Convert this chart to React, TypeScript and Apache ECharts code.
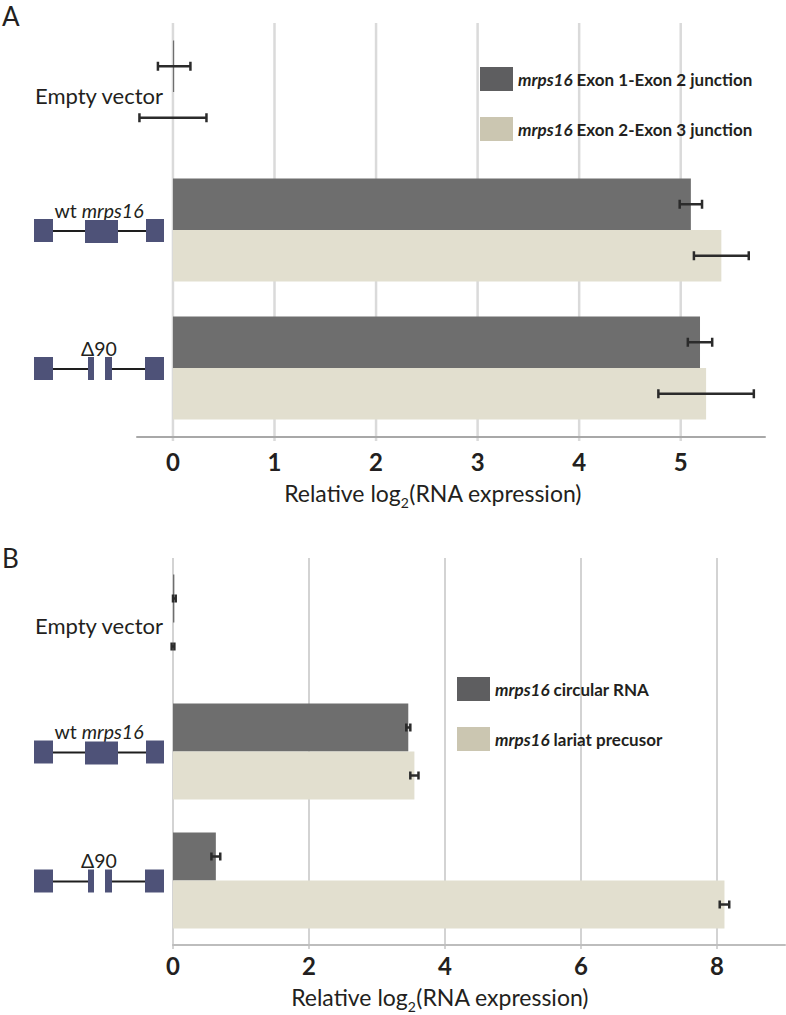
import React, { useEffect, useRef } from 'react';
import * as echarts from 'echarts';

// ---------- data ----------
const categories = ['Empty vector', 'wt mrps16', 'Δ90'];

const seriesA1Name = 'mrps16 Exon 1-Exon 2 junction';
const seriesA2Name = 'mrps16 Exon 2-Exon 3 junction';
const valuesA1 = [0.012, 5.1, 5.19];
const errorsA1 = [0.16, 0.11, 0.12];
const valuesA2 = [0.0, 5.4, 5.25];
const errorsA2 = [0.33, 0.27, 0.47];
const ticksA = [0, 1, 2, 3, 4, 5];

const seriesB1Name = 'mrps16 circular RNA';
const seriesB2Name = 'mrps16 lariat precusor';
const valuesB1 = [0.02, 3.46, 0.63];
const errorsB1 = [0.02, 0.03, 0.065];
const valuesB2 = [0.0, 3.55, 8.11];
const errorsB2 = [0.02, 0.06, 0.07];
const ticksB = [0, 2, 4, 6, 8];

// ---------- style ----------
const FONT = 'Lato, "Noto Sans", sans-serif';
const TEXT = '#231f20';
const DARK = '#6e6e6e';
const LIGHT = '#e2dfcf';
const LEG_DARK = '#5e5e60';
const LEG_LIGHT = '#cbc6b1';
const GENE = '#4e5278';
const GRID_LINE = '#dadada';
const ERR = '#2b2b2b';

function gridSeries(ticks: number[], idx: number, color: string, width: number) {
  return {
    type: 'custom',
    xAxisIndex: idx,
    yAxisIndex: idx,
    z: 0,
    clip: false,
    silent: true,
    data: ticks.map((t) => [t, 0]),
    encode: { x: 0, y: 1 },
    renderItem: (params: any, api: any) => {
      const cs = params.coordSys;
      const x = api.coord([api.value(0), 0])[0];
      return {
        type: 'line',
        shape: { x1: x, y1: cs.y, x2: x, y2: cs.y + cs.height + 4 },
        style: { stroke: color, lineWidth: width },
      };
    },
  };
}

function errorSeries(values: number[], errors: number[], idx: number, offset: number, capH: number) {
  return {
    type: 'custom',
    xAxisIndex: idx,
    yAxisIndex: idx,
    z: 5,
    clip: false,
    silent: true,
    data: values.map((v, i) => [v, i, errors[i]]),
    encode: { x: 0, y: 1 },
    renderItem: (params: any, api: any) => {
      const v = api.value(0);
      const c = api.value(1);
      const e = api.value(2);
      const p1 = api.coord([v - e, c]);
      const p2 = api.coord([v + e, c]);
      const y = p1[1] + offset;
      const st = { stroke: ERR, lineWidth: 2.5 };
      return {
        type: 'group',
        children: [
          { type: 'line', shape: { x1: p1[0], y1: y, x2: p2[0], y2: y }, style: st },
          { type: 'line', shape: { x1: p1[0], y1: y - capH / 2, x2: p1[0], y2: y + capH / 2 }, style: st },
          { type: 'line', shape: { x1: p2[0], y1: y - capH / 2, x2: p2[0], y2: y + capH / 2 }, style: st },
        ],
      };
    },
  };
}

const catLabel = (margin: number) => ({
  show: true,
  align: 'center',
  margin,
  color: TEXT,
  fontFamily: FONT,
  formatter: (v: string) => {
    if (v === 'wt mrps16') return '{n|wt }{i|mrps16}\n{g|}';
    if (v === 'Δ90') return '{n|Δ90}\n{g|}';
    return '{e|' + v + '}';
  },
  rich: {
    e: { fontSize: 22, fontFamily: FONT, color: TEXT, lineHeight: 26, padding: [6, 0, 0, 0] },
    n: { fontSize: 19.5, fontFamily: FONT, color: TEXT, lineHeight: 22 },
    i: { fontSize: 19.5, fontFamily: FONT, color: TEXT, fontStyle: 'italic', lineHeight: 22 },
    g: { height: 40, lineHeight: 40, fontSize: 2 },
  },
});

const axisName = 'Relative log{sub|2}(RNA expression)';
const nameStyle = (padRight: number) => ({
  fontSize: 23,
  fontFamily: FONT,
  color: TEXT,
  lineHeight: 32,
  padding: [0, padRight, 0, 0],
  rich: {
    sub: { fontSize: 14, fontFamily: FONT, color: TEXT, lineHeight: 14, verticalAlign: 'bottom' },
  },
});

const legendFormatter = (name: string) => '{i|mrps16} {b|' + name.replace('mrps16 ', '') + '}';
const legendText = {
  fontSize: 17,
  fontFamily: FONT,
  fontWeight: 'bold',
  color: TEXT,
  rich: {
    i: { fontSize: 17, fontFamily: FONT, fontWeight: 'bold', fontStyle: 'italic', color: TEXT },
    b: { fontSize: 17, fontFamily: FONT, fontWeight: 'bold', color: TEXT },
  },
};

function geneWT(c: number) {
  return [
    { type: 'line', shape: { x1: 53, y1: c + 1, x2: 146, y2: c + 1 }, style: { stroke: '#1e1e1e', lineWidth: 2 } },
    { type: 'rect', shape: { x: 34, y: c - 11, width: 19, height: 23 }, style: { fill: GENE } },
    { type: 'rect', shape: { x: 85, y: c - 10, width: 33, height: 23 }, style: { fill: GENE } },
    { type: 'rect', shape: { x: 146, y: c - 11, width: 18, height: 23 }, style: { fill: GENE } },
  ];
}
function geneD90(c: number) {
  return [
    { type: 'line', shape: { x1: 53, y1: c + 1, x2: 88, y2: c + 1 }, style: { stroke: '#1e1e1e', lineWidth: 2 } },
    { type: 'line', shape: { x1: 112, y1: c + 1, x2: 145, y2: c + 1 }, style: { stroke: '#1e1e1e', lineWidth: 2 } },
    { type: 'rect', shape: { x: 34, y: c - 11, width: 19, height: 23 }, style: { fill: GENE } },
    { type: 'rect', shape: { x: 88, y: c - 11, width: 6, height: 23 }, style: { fill: GENE } },
    { type: 'rect', shape: { x: 105, y: c - 11, width: 7, height: 23 }, style: { fill: GENE } },
    { type: 'rect', shape: { x: 145, y: c - 11, width: 19, height: 23 }, style: { fill: GENE } },
  ];
}

export default function App() {
  const ref = useRef<HTMLDivElement>(null);
  useEffect(() => {
    if (!ref.current) return;
    const chart = echarts.init(ref.current, undefined, { renderer: 'svg' });
    const BW_A = 51.5;
    const BW_B = 48;
    chart.setOption({
      animation: false,
      backgroundColor: '#ffffff',
      textStyle: { fontFamily: FONT },
      grid: [
        { left: 137, top: 23, width: 628, height: 414 },
        { left: 173, top: 558, width: 612, height: 387 },
      ],
      legend: [
        {
          orient: 'vertical',
          left: 480,
          top: 67,
          padding: 0,
          itemWidth: 33,
          itemHeight: 24,
          itemGap: 26,
          icon: 'rect',
          selectedMode: false,
          data: [
            { name: seriesA1Name, itemStyle: { color: LEG_DARK } },
            { name: seriesA2Name, itemStyle: { color: LEG_LIGHT } },
          ],
          formatter: legendFormatter,
          textStyle: legendText,
        },
        {
          orient: 'vertical',
          left: 457,
          top: 677,
          padding: 0,
          itemWidth: 33,
          itemHeight: 24,
          itemGap: 26,
          icon: 'rect',
          selectedMode: false,
          data: [
            { name: seriesB1Name, itemStyle: { color: LEG_DARK } },
            { name: seriesB2Name, itemStyle: { color: LEG_LIGHT } },
          ],
          formatter: legendFormatter,
          textStyle: legendText,
        },
      ],
      xAxis: [
        {
          type: 'value',
          gridIndex: 0,
          min: -0.354,
          max: 5.83,
          splitLine: { show: false },
          axisTick: { show: false },
          axisLine: { show: true, onZero: false, lineStyle: { color: '#a8a8a8', width: 2 } },
          axisLabel: { customValues: ticksA, fontSize: 24, fontWeight: 'bold', color: TEXT, fontFamily: FONT, margin: 12 },
          name: axisName,
          nameLocation: 'middle',
          nameGap: 40,
          nameTextStyle: nameStyle(36),
        },
        {
          type: 'value',
          gridIndex: 1,
          min: 0,
          max: 9,
          splitLine: { show: false },
          axisTick: { show: false },
          axisLine: { show: true, onZero: false, lineStyle: { color: '#bdbdbd', width: 2 } },
          axisLabel: { customValues: ticksB, fontSize: 24, fontWeight: 'bold', color: TEXT, fontFamily: FONT, margin: 8 },
          name: axisName,
          nameLocation: 'middle',
          nameGap: 36,
          nameTextStyle: nameStyle(78),
        },
      ],
      yAxis: [
        {
          type: 'category',
          gridIndex: 0,
          data: categories,
          inverse: true,
          axisLine: { show: false, onZero: false },
          axisTick: { show: false },
          splitLine: { show: false },
          axisLabel: catLabel(137 - 99),
        },
        {
          type: 'category',
          gridIndex: 1,
          data: categories,
          inverse: true,
          axisLine: { show: false, onZero: false },
          axisTick: { show: false },
          splitLine: { show: false },
          axisLabel: catLabel(173 - 99),
        },
      ],
      series: [
        gridSeries(ticksA, 0, GRID_LINE, 2.5),
        gridSeries(ticksB, 1, '#d3d3d3', 2),
        {
          type: 'bar',
          name: seriesA1Name,
          xAxisIndex: 0,
          yAxisIndex: 0,
          data: valuesA1,
          barWidth: BW_A,
          barGap: '0%',
          z: 2,
          itemStyle: { color: DARK },
        },
        {
          type: 'bar',
          name: seriesA2Name,
          xAxisIndex: 0,
          yAxisIndex: 0,
          data: valuesA2,
          barWidth: BW_A,
          barGap: '0%',
          z: 2,
          itemStyle: { color: LIGHT },
        },
        {
          type: 'bar',
          name: seriesB1Name,
          xAxisIndex: 1,
          yAxisIndex: 1,
          data: valuesB1,
          barWidth: BW_B,
          barGap: '0%',
          z: 2,
          itemStyle: { color: DARK },
        },
        {
          type: 'bar',
          name: seriesB2Name,
          xAxisIndex: 1,
          yAxisIndex: 1,
          data: valuesB2,
          barWidth: BW_B,
          barGap: '0%',
          z: 2,
          itemStyle: { color: LIGHT },
        },
        errorSeries(valuesA1, errorsA1, 0, -BW_A / 2, 9),
        errorSeries(valuesA2, errorsA2, 0, BW_A / 2, 9),
        errorSeries(valuesB1, errorsB1, 1, -BW_B / 2, 8),
        errorSeries(valuesB2, errorsB2, 1, BW_B / 2, 8),
      ],
    });

    const cA1 = chart.convertToPixel({ yAxisIndex: 0 } as any, categories[1]) as number;
    const cA2 = chart.convertToPixel({ yAxisIndex: 0 } as any, categories[2]) as number;
    const cB1 = chart.convertToPixel({ yAxisIndex: 1 } as any, categories[1]) as number;
    const cB2 = chart.convertToPixel({ yAxisIndex: 1 } as any, categories[2]) as number;

    chart.setOption({
      graphic: [
        {
          type: 'text',
          left: 2,
          top: 3,
          z: 10,
          style: { text: 'A', fontSize: 26, fontFamily: FONT, fill: TEXT },
        },
        {
          type: 'text',
          left: 2,
          top: 545,
          z: 10,
          style: { text: 'B', fontSize: 26, fontFamily: FONT, fill: TEXT },
        },
        ...geneWT(cA1).map((g) => ({ ...g, z: 10, silent: true })),
        ...geneD90(cA2).map((g) => ({ ...g, z: 10, silent: true })),
        ...geneWT(cB1).map((g) => ({ ...g, z: 10, silent: true })),
        ...geneD90(cB2).map((g) => ({ ...g, z: 10, silent: true })),
      ],
    });

    return () => chart.dispose();
  }, []);
  return (
    <div
      ref={ref}
      style={{ position: 'fixed', left: 0, top: 0, width: 786, height: 1015, background: '#fff' }}
    />
  );
}
